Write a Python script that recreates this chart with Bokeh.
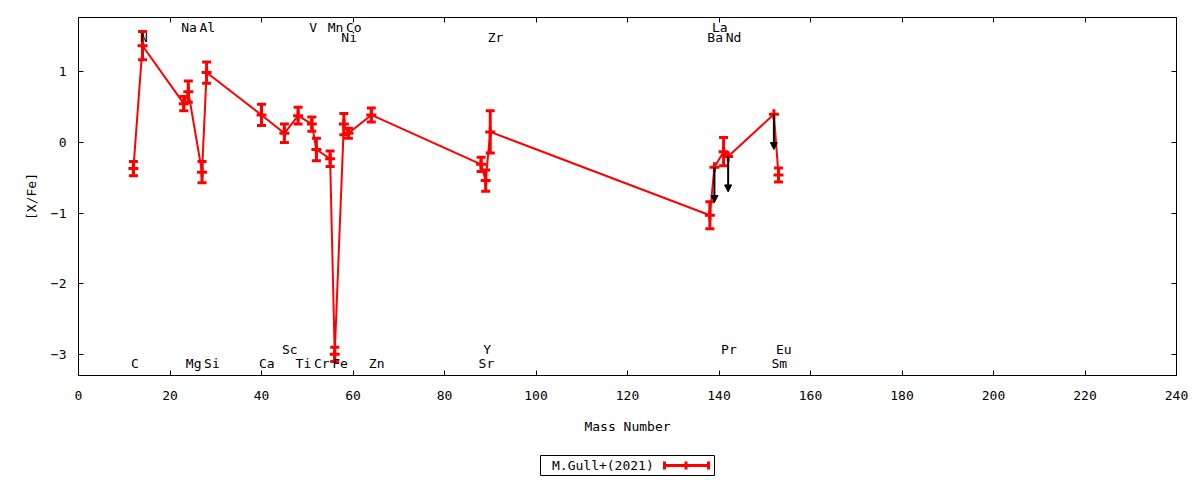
from bokeh.plotting import figure
from bokeh.models import (Range1d, FixedTicker, LinearAxis, ColumnDataSource,
                          Arrow, NormalHead, CustomJSTickFormatter)
from bokeh.layouts import column
from bokeh.core.properties import value
from bokeh.embed import file_html
from bokeh.resources import INLINE

# ---------------- data ----------------
elements = ["C", "N", "Na", "Mg", "Al", "Si", "Ca", "Sc", "Ti", "V", "Cr", "Mn", "Fe",
            "Ni", "Co", "Zn", "Sr", "Y", "Zr", "Ba", "La", "Pr", "Nd", "Sm", "Eu"]
mass = [12, 14, 23, 24, 27, 28, 40, 45, 48, 51, 52, 55, 56,
        58, 59, 64, 88, 89, 90, 138, 139, 141, 142, 152, 153]
xfe = [-0.37, 1.37, 0.55, 0.72, -0.42, 0.99, 0.39, 0.13, 0.38, 0.26, -0.10, -0.23, -3.00,
       0.26, 0.13, 0.39, -0.31, -0.54, 0.15, -1.03, -0.35, -0.13, -0.20, 0.40, -0.46]
err = [0.10, 0.20, 0.10, 0.15, 0.15, 0.15, 0.15, 0.13, 0.12, 0.10, 0.16, 0.11, 0.10,
       0.15, 0.07, 0.10, 0.10, 0.15, 0.30, 0.19, 0.00, 0.20, 0.00, 0.00, 0.10]
upper_limit = [False, False, False, False, False, False, False, False, False, False, False, False, False,
               False, False, False, False, False, False, False, True, False, True, True, False]
arrow_length = 0.5
# element label rows (y in [X/Fe] units)
label_y = [-3.13, 1.49, 1.63, -3.13, 1.63, -3.13, -3.13, -2.93, -3.13, 1.63, -3.13, 1.63, -3.13,
           1.49, 1.63, -3.13, -3.13, -2.93, 1.49, 1.49, 1.63, -2.93, 1.49, -3.13, -2.93]
series_name = "M.Gull+(2021)"
x_ticks = [0, 20, 40, 60, 80, 100, 120, 140, 160, 180, 200, 220, 240]
y_ticks = [-3, -2, -1, 0, 1]

FONT = "DejaVu Sans Mono"
FS = "13px"
RED = "#ff0000"

BL, FW, BR = 78, 1098, 24      # left border, frame width, right border
BT, FH, BB = 17, 358, 65       # top border, frame height, bottom border

# ---------------- main figure ----------------
p = figure(frame_width=FW, frame_height=FH,
           x_range=Range1d(0, 240), y_range=Range1d(-3.3, 1.77),
           output_backend="svg", toolbar_location=None,
           min_border_left=BL, min_border_right=BR, min_border_top=BT, min_border_bottom=BB)
p.xgrid.visible = False
p.ygrid.visible = False
p.outline_line_color = "black"
p.outline_line_width = 1
p.background_fill_color = "white"
p.border_fill_color = "white"

def style_axis(ax):
    ax.major_tick_in = 5
    ax.major_tick_out = 0
    ax.minor_tick_in = 0
    ax.minor_tick_out = 0
    ax.axis_line_color = "black"
    ax.major_tick_line_color = "black"
    ax.major_label_text_font = FONT
    ax.major_label_text_font_size = FS
    ax.major_label_text_color = "black"
    ax.axis_label_text_font = FONT
    ax.axis_label_text_font_size = FS
    ax.axis_label_text_font_style = "normal"
    ax.axis_label_text_color = "black"

xa = p.xaxis[0]
ya = p.yaxis[0]
xa.ticker = FixedTicker(ticks=x_ticks)
ya.ticker = FixedTicker(ticks=y_ticks)
style_axis(xa)
style_axis(ya)
xa.axis_label = "Mass Number"
ya.axis_label = "[X/Fe]"
xa.major_label_standoff = 15
xa.axis_label_standoff = 16
ya.major_label_standoff = 12
ya.axis_label_standoff = 9

for loc, ticks in (("above", x_ticks), ("right", y_ticks)):
    ax = LinearAxis(ticker=FixedTicker(ticks=ticks),
                    formatter=CustomJSTickFormatter(code="return ''"))
    style_axis(ax)
    ax.major_label_text_font_size = "0px"
    ax.major_label_standoff = 0
    p.add_layout(ax, loc)

# data line
src = ColumnDataSource(dict(x=mass, y=xfe))
p.line("x", "y", source=src, line_color=RED, line_width=2)

# error bars
ex = [m for m, e in zip(mass, err) if e > 0]
elo = [v - e for v, e in zip(xfe, err) if e > 0]
ehi = [v + e for v, e in zip(xfe, err) if e > 0]
esrc = ColumnDataSource(dict(x=ex, lo=elo, hi=ehi))
p.segment(x0="x", y0="lo", x1="x", y1="hi", source=esrc, line_color=RED, line_width=3)
p.scatter("x", "lo", source=esrc, marker="dash", size=9, line_color=RED, line_width=3)
p.scatter("x", "hi", source=esrc, marker="dash", size=9, line_color=RED, line_width=3)

# points
p.scatter("x", "y", source=src, marker="cross", size=10, line_color=RED, line_width=3)

# upper-limit arrows
ax_ = [m for m, u in zip(mass, upper_limit) if u]
ay0 = [v for v, u in zip(xfe, upper_limit) if u]
ay1 = [v - arrow_length for v, u in zip(xfe, upper_limit) if u]
asrc = ColumnDataSource(dict(x=ax_, y0=ay0, y1=ay1))
p.add_layout(Arrow(end=NormalHead(size=7, line_color="black", fill_color="black", line_width=1),
                   x_start="x", y_start="y0", x_end="x", y_end="y1", source=asrc,
                   line_color="black", line_width=2))

# element labels
lsrc = ColumnDataSource(dict(x=mass, y=label_y, t=elements))
p.text("x", "y", text="t", source=lsrc, text_font=value(FONT), text_font_size=value(FS),
       text_align="left", text_baseline="middle", x_offset=-2.5, text_color="black")

# ---------------- legend (below), in page-pixel coordinates ----------------
LH = 40
q = figure(frame_width=FW, frame_height=LH,
           x_range=Range1d(BL, BL + FW), y_range=Range1d(0, LH),
           output_backend="svg", toolbar_location=None,
           min_border_left=BL, min_border_right=BR, min_border_top=0, min_border_bottom=0,
           x_axis_type=None, y_axis_type=None)
q.grid.visible = False
q.outline_line_color = None
q.border_fill_color = "white"
q.quad(left=[540], right=[714], bottom=[5], top=[25], fill_color=None,
       line_color="black", line_width=1)
q.text(x=[551.5], y=[15], text=[series_name], text_font=value(FONT), text_font_size=value(FS),
       text_align="left", text_baseline="middle", text_color="black")
q.segment(x0=[664], y0=[15], x1=[708], y1=[15], line_color=RED, line_width=3)
q.segment(x0=[664, 685.5, 708], y0=[11, 11, 11], x1=[664, 685.5, 708], y1=[19, 19, 19],
          line_color=RED, line_width=3)

layout = column(p, q, spacing=0)
open("out.html", "w").write(file_html(layout, INLINE))
